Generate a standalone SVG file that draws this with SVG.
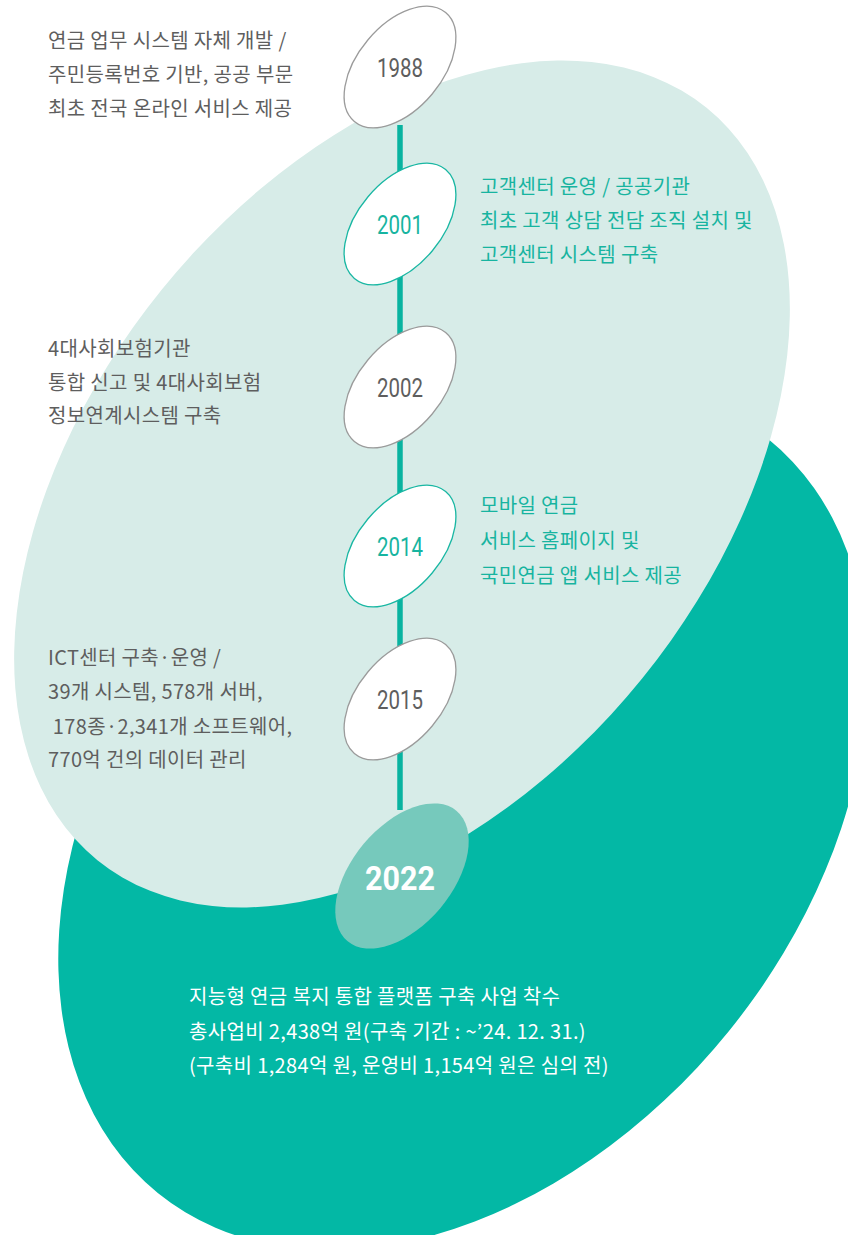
<svg xmlns="http://www.w3.org/2000/svg" width="848" height="1235" viewBox="0 0 848 1235">
  <style>
    .t{font-family:"Noto Sans CJK KR","Noto Sans",sans-serif;font-size:20px;letter-spacing:0.35px}
    .g{fill:#5e5e5e}
    .c{fill:#17b4a0}
    .w{fill:#ffffff}
    .yr{font-family:Roboto,"Liberation Sans",sans-serif;font-size:26px;text-anchor:middle}
    .ng{fill:#ffffff;stroke:#9b9b9b;stroke-width:1.3}
    .nc{fill:#ffffff;stroke:#19b7a3;stroke-width:1.3}
  </style>
  <rect width="848" height="1235" fill="#ffffff"/>
  <g id="backgrounds">
    <ellipse cx="463" cy="816" rx="485" ry="342" transform="rotate(-51 463 816)" fill="#03b8a5"/>
    <ellipse cx="402" cy="484" rx="484" ry="309" transform="rotate(-51 402 484)" fill="#d7ece8"/>
  </g>
  <g id="connectors">
    <line x1="400" y1="125" x2="400" y2="810" stroke="#08b3a0" stroke-width="5.5"/>
  </g>
  <g id="node-1988">
    <ellipse class="ng" cx="400" cy="67" rx="71" ry="42" transform="rotate(-50 400 67)"/>
    <text class="yr g" x="400" y="77" textLength="46" lengthAdjust="spacingAndGlyphs">1988</text>
    <text class="t g" x="48" y="48">연금 업무 시스템 자체 개발 /</text>
    <text class="t g" x="48" y="82">주민등록번호 기반, 공공 부문</text>
    <text class="t g" x="48" y="116">최초 전국 온라인 서비스 제공</text>
  </g>
  <g id="node-2001">
    <ellipse class="nc" cx="400" cy="224" rx="71" ry="42" transform="rotate(-50 400 224)"/>
    <text class="yr c" x="400" y="234" textLength="46" lengthAdjust="spacingAndGlyphs">2001</text>
    <text class="t c" x="480" y="194">고객센터 운영 / 공공기관</text>
    <text class="t c" x="480" y="228">최초 고객 상담 전담 조직 설치 및</text>
    <text class="t c" x="480" y="262">고객센터 시스템 구축</text>
  </g>
  <g id="node-2002">
    <ellipse class="ng" cx="400" cy="387" rx="71" ry="42" transform="rotate(-50 400 387)"/>
    <text class="yr g" x="400" y="397" textLength="46" lengthAdjust="spacingAndGlyphs">2002</text>
    <text class="t g" x="48" y="356">4대사회보험기관</text>
    <text class="t g" x="48" y="390">통합 신고 및 4대사회보험</text>
    <text class="t g" x="48" y="423">정보연계시스템 구축</text>
  </g>
  <g id="node-2014">
    <ellipse class="nc" cx="400" cy="546" rx="71" ry="42" transform="rotate(-50 400 546)"/>
    <text class="yr c" x="400" y="556" textLength="46" lengthAdjust="spacingAndGlyphs">2014</text>
    <text class="t c" x="480" y="513">모바일 연금</text>
    <text class="t c" x="480" y="548">서비스 홈페이지 및</text>
    <text class="t c" x="480" y="583">국민연금 앱 서비스 제공</text>
  </g>
  <g id="node-2015">
    <ellipse class="ng" cx="400" cy="699" rx="71" ry="42" transform="rotate(-50 400 699)"/>
    <text class="yr g" x="400" y="709" textLength="46" lengthAdjust="spacingAndGlyphs">2015</text>
    <text class="t g" x="48" y="665">ICT센터 구축·운영 /</text>
    <text class="t g" x="48" y="699">39개 시스템, 578개 서버,</text>
    <text class="t g" x="48" y="734" xml:space="preserve"> 178종·2,341개 소프트웨어,</text>
    <text class="t g" x="48" y="767">770억 건의 데이터 관리</text>
  </g>
  <g id="node-2022">
    <ellipse cx="402" cy="876" rx="85" ry="50" transform="rotate(-50 402 876)" fill="#76c9bc"/>
    <text x="400" y="890" font-family="Roboto,'Liberation Sans',sans-serif" font-size="34" font-weight="bold" text-anchor="middle" fill="#ffffff" textLength="70" lengthAdjust="spacingAndGlyphs">2022</text>
    <text class="t w" x="189" y="1004">지능형 연금 복지 통합 플랫폼 구축 사업 착수</text>
    <text class="t w" x="189" y="1039">총사업비 2,438억 원(구축 기간 : ~’24. 12. 31.)</text>
    <text class="t w" x="189" y="1073">(구축비 1,284억 원, 운영비 1,154억 원은 심의 전)</text>
  </g>
</svg>
